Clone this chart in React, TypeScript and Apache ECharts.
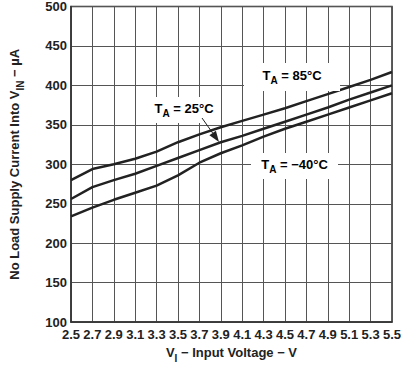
import React, { useEffect, useRef } from "react";
import * as echarts from "echarts";

const voltages = ["2.5", "2.7", "2.9", "3.1", "3.3", "3.5", "3.7", "3.9", "4.1", "4.3", "4.5", "4.7", "4.9", "5.1", "5.3", "5.5"];
const t85 = [280, 294, 300, 307, 316, 328, 338, 347, 355, 363, 371, 380, 389, 398, 407, 417];
const t25 = [256, 271, 280, 288, 298, 308, 318, 328, 336, 345, 354, 363, 372, 382, 391, 400];
const tm40 = [234, 245, 255, 264, 273, 286, 302, 314, 324, 335, 345, 354, 363, 372, 381, 390];

const FONT = "Liberation Sans, Arial, sans-serif";
const INK = "#222";

const richSub = {
  n: { fontFamily: FONT, fontWeight: "bold", fontSize: 13, color: INK, lineHeight: 14, verticalAlign: "top" },
  s: { fontFamily: FONT, fontWeight: "bold", fontSize: 10, color: INK, lineHeight: 17, verticalAlign: "bottom" },
};

export default function App() {
  const ref = useRef<HTMLDivElement>(null);
  useEffect(() => {
    if (!ref.current) return;
    const chart = echarts.init(ref.current, undefined, { renderer: "svg" });
    const lineSeries = (name: string, data: number[]) => ({
      name,
      type: "line",
      data,
      symbol: "none",
      smooth: false,
      lineStyle: { color: INK, width: 2.5 },
      z: 3,
    });
    const label = (x: number, y: number, w: number, h: number, parts: [string, string, string]) => [
      { type: "rect", shape: { x, y, width: w, height: h }, style: { fill: "#fff" }, z: 10 },
      {
        type: "text",
        x: x + w / 2,
        y: y + h / 2,
        z: 11,
        style: {
          text: `{n|${parts[0]}}{s|${parts[1]}}{n|${parts[2]}}`,
          rich: richSub,
          align: "center",
          verticalAlign: "middle",
        },
      },
    ];
    const tip = [219, 142];
    const start = [202, 118];
    const dx = tip[0] - start[0];
    const dy = tip[1] - start[1];
    const len = Math.sqrt(dx * dx + dy * dy);
    const ux = dx / len, uy = dy / len;
    const bx = tip[0] - ux * 11, by = tip[1] - uy * 11;
    const px = -uy * 4, py = ux * 4;

    chart.setOption({
      animation: false,
      grid: {
        left: 64, top: 1, right: 11, bottom: 40,
        show: true, borderColor: "#333", borderWidth: 1.5, backgroundColor: "transparent",
      },
      xAxis: {
        type: "category",
        data: voltages,
        boundaryGap: false,
        name: "{n|V}{s|I}{n| − Input Voltage − V}",
        nameLocation: "middle",
        nameGap: 22,
        nameTextStyle: { rich: richSub },
        axisLine: { show: true, lineStyle: { color: "#333", width: 1.5 } },
        axisTick: { show: false },
        axisLabel: {
          interval: 0,
          hideOverlap: false,
          margin: 6,
          fontFamily: FONT,
          fontWeight: "bold",
          fontSize: 13,
          color: INK,
        },
        splitLine: { show: true, interval: 0, lineStyle: { color: "#555", width: 1 } },
      },
      yAxis: {
        type: "value",
        min: 100,
        max: 500,
        interval: 50,
        name: "{n|No Load Supply Current Into V}{s|IN}{n| − µA}",
        nameLocation: "middle",
        nameGap: 46,
        nameTextStyle: { rich: richSub },
        axisLine: { show: true, lineStyle: { color: "#333", width: 1.5 } },
        axisTick: { show: false },
        axisLabel: {
          margin: 4,
          fontFamily: FONT,
          fontWeight: "bold",
          fontSize: 13,
          color: INK,
        },
        splitLine: { show: true, lineStyle: { color: "#555", width: 1 } },
      },
      series: [lineSeries("85", t85), lineSeries("25", t25), lineSeries("-40", tm40)],
      graphic: [
        ...label(244, 63, 96, 28, ["T", "A", " = 85°C"]),
        ...label(148, 97, 72, 26, ["T", "A", " = 25°C"]),
        ...label(251, 153, 87, 26, ["T", "A", " = −40°C"]),
        {
          type: "line",
          shape: { x1: start[0], y1: start[1], x2: bx, y2: by },
          style: { stroke: INK, lineWidth: 1 },
          z: 12,
        },
        {
          type: "polygon",
          shape: { points: [[tip[0], tip[1]], [bx + px, by + py], [bx - px, by - py]] },
          style: { fill: INK },
          z: 12,
        },
      ],
    });
    return () => chart.dispose();
  }, []);
  return <div ref={ref} style={{ position: "absolute", left: 0, top: 0, width: 404, height: 368 }} />;
}
